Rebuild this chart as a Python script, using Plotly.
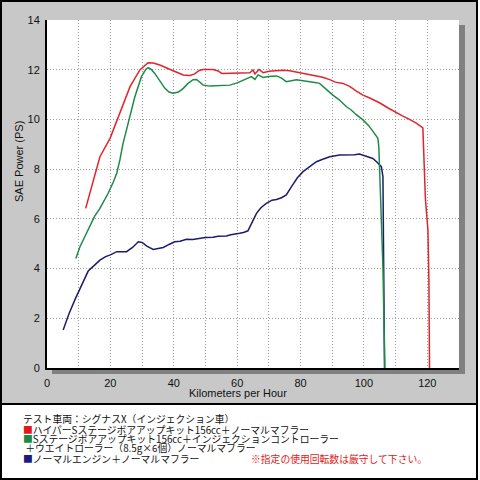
import plotly.graph_objects as go

# ---- data ----
red_x = [12.2, 14.5, 16.7, 19.9, 23, 26.2, 29.3, 31.9, 33.5, 35.6, 39.8, 43, 45.1, 46.6, 48, 49.3, 52.4, 54,
         55.1, 57, 59.8, 62, 64, 65, 65.6, 66.9, 68.2, 70, 72.4, 74.5, 76.6, 78.5, 80.8, 83, 85, 87, 89.2, 91,
         93.4, 95.5, 97.5, 99.7, 102, 104.9, 107.5, 110.2, 112, 114.4, 116.5, 118.6, 119.4, 120.2, 120.5, 120.7]
red_y = [6.42, 7.5, 8.5, 9.24, 10.25, 11.32, 11.99, 12.28, 12.27, 12.19, 11.96, 11.79, 11.77, 11.83, 11.97,
         12.01, 12.01, 11.95, 11.85, 11.86, 11.85, 11.87, 11.88, 11.99, 11.83, 12.01, 11.88, 11.94, 11.96, 11.98,
         11.96, 11.92, 11.85, 11.8, 11.75, 11.7, 11.6, 11.5, 11.45, 11.33, 11.15, 10.98, 10.85, 10.67, 10.47,
         10.27, 10.15, 10.0, 9.85, 9.66, 6.8, 5.55, 3.6, 0]

green_x = [9.1, 10.4, 12, 13.6, 15, 16.7, 18, 19.3, 21, 22, 23, 24, 25.6, 27.7, 29.8, 31.2, 31.9, 33, 34, 35.5,
           37.2, 38.5, 39.8, 41.5, 43, 44.5, 46.1, 47.2, 48.3, 49.3, 51.4, 54, 57.7, 60, 61.9, 64.5, 65.6, 66.6,
           68.2, 70, 72.4, 74, 75.5, 77, 78.7, 80.8, 83, 85, 86, 87.1, 88.5, 90.2, 92.3, 94.5, 96, 97.5, 99.7,
           101.5, 102.9, 104.4, 104.7, 105.2, 106, 106.6]
green_y = [4.41, 4.88, 5.3, 5.75, 6.1, 6.42, 6.7, 7.03, 7.5, 7.83, 8.37, 9.04, 9.84, 10.9, 11.72, 12.02, 12.08,
           12.0, 11.85, 11.55, 11.25, 11.1, 11.05, 11.1, 11.25, 11.45, 11.6, 11.61, 11.5, 11.38, 11.34, 11.36,
           11.38, 11.47, 11.59, 11.72, 11.61, 11.79, 11.69, 11.73, 11.75, 11.66, 11.52, 11.57, 11.6, 11.56,
           11.53, 11.48, 11.45, 11.32, 11.15, 10.98, 10.78, 10.51, 10.38, 10.2, 9.98, 9.75, 9.51, 9.24, 8.9,
           6.76, 4.07, 0]

blue_x = [5.1, 7, 9, 11, 13, 15.1, 16.7, 18.5, 20, 22, 25.1, 27, 28.8, 30, 31.5, 33.5, 35, 36.7, 38.5, 40.3,
          42, 44, 46, 48.2, 50, 52.4, 54, 56.6, 58, 60.8, 62, 63.4, 64.5, 66.1, 67.5, 69.2, 71, 72.4, 74, 75.5,
          77.1, 79, 80.8, 83, 85, 87, 89.2, 92.3, 95, 97, 98.6, 100, 101.5, 102.8, 104, 105.5, 106, 106.3, 106.5]
blue_y = [1.53, 2.2, 2.8, 3.35, 3.9, 4.15, 4.34, 4.48, 4.55, 4.68, 4.68, 4.85, 5.08, 5.05, 4.9, 4.77, 4.82,
          4.85, 4.97, 5.08, 5.1, 5.18, 5.17, 5.22, 5.25, 5.26, 5.3, 5.31, 5.36, 5.42, 5.45, 5.52, 5.8, 6.22,
          6.45, 6.62, 6.75, 6.78, 6.85, 6.96, 7.29, 7.65, 7.9, 8.12, 8.3, 8.4, 8.5, 8.57, 8.57, 8.58, 8.61, 8.55,
          8.5, 8.43, 8.3, 8.1, 7.7, 4.0, 0]

x_ticks = [0, 20, 40, 60, 80, 100, 120]
y_ticks = [0, 2, 4, 6, 8, 10, 12, 14]

legend_lines = [
    "テスト車両：シグナスX（インジェクション車）",
    "<span style='color:#e01818'>■</span>ハイパーSステージボアアップキット156cc＋ノーマルマフラー",
    "<span style='color:#1a8a40'>■</span>Sステージボアアップキット156cc＋インジェクションコントローラー",
    " ＋ウエイトローラー（8.5g×6個）ノーマルマフラー",
    "<span style='color:#1a1a80'>■</span>ノーマルエンジン＋ノーマルマフラー",
]
note_text = "※指定の使用回転数は厳守して下さい。"

RED, GREEN, NAVY = "#e0242c", "#1f8a48", "#1c1c6a"

# ---- layout geometry (pixels) ----
W = H = 480
L, R, T, B = 47, 459, 20, 368


def px(x):
    return (x - L) / (R - L)


def py(y):
    return (B - y) / (B - T)


fig = go.Figure()
for xs, ys, c in [(blue_x, blue_y, NAVY), (green_x, green_y, GREEN), (red_x, red_y, RED)]:
    fig.add_trace(go.Scatter(x=xs, y=ys, mode="lines", line=dict(color=c, width=1.5),
                             showlegend=False, hoverinfo="skip"))

shapes = [
    dict(type="rect", xref="paper", yref="paper", x0=px(1), x1=px(477), y0=py(404), y1=py(1),
         fillcolor="#c8c8c8", line=dict(color="black", width=2), layer="below"),
    dict(type="rect", xref="paper", yref="paper", x0=px(1), x1=px(477), y0=py(479), y1=py(404),
         fillcolor="white", line=dict(color="black", width=2), layer="below"),
    dict(type="rect", xref="paper", yref="paper", x0=px(52), x1=px(465), y0=py(374), y1=py(25),
         fillcolor="#808080", line=dict(width=0), layer="below"),
    dict(type="rect", xref="paper", yref="paper", x0=0, x1=1, y0=0, y1=1,
         fillcolor="white", line=dict(width=0), layer="below"),
]

annotations = [
    dict(text="Kilometers per Hour", xref="paper", yref="paper", x=px(238), y=py(393),
         showarrow=False, font=dict(size=11, color="#111", family="Liberation Sans, Arial"),
         xanchor="center", yanchor="middle", borderpad=0),
    dict(text="SAE Power (PS)", xref="paper", yref="paper", x=px(19), y=py(162), textangle=-90,
         showarrow=False, font=dict(size=11, color="#111", family="Liberation Sans, Arial"),
         xanchor="center", yanchor="middle", borderpad=0),
]
ys_leg = [419, 429.5, 439, 448.5, 459]
for t, yy in zip(legend_lines, ys_leg):
    annotations.append(dict(text=t, xref="paper", yref="paper", x=px(22), y=py(yy), showarrow=False,
                            xanchor="left", yanchor="middle", borderpad=0,
                            font=dict(size=9.8, color="#111", family="Noto Sans CJK JP")))
annotations.append(dict(text=note_text, xref="paper", yref="paper", x=px(250), y=py(459), showarrow=False,
                        xanchor="left", yanchor="middle", borderpad=0,
                        font=dict(size=9.8, color="#e02020", family="Noto Sans CJK JP")))

GRID = dict(showgrid=True, gridcolor="#9a9a9a", griddash="1px,2px", gridwidth=1)

fig.update_layout(
    width=W, height=H,
    margin=dict(l=L, r=W - R, t=T, b=H - B, pad=0),
    paper_bgcolor="white",
    plot_bgcolor="rgba(0,0,0,0)",
    shapes=shapes,
    annotations=annotations,
    font=dict(family="Liberation Sans, Arial", size=11, color="#111"),
)
fig.update_xaxes(range=[0, 130], tickvals=x_ticks, ticktext=[str(v) for v in x_ticks],
                 minor=dict(dtick=10, tick0=0, **GRID), **GRID,
                 showline=True, linecolor="black", linewidth=2, mirror=False,
                 ticks="", ticklabelstandoff=4, zeroline=False, fixedrange=True, automargin=False)
fig.update_yaxes(range=[0, 14], tickvals=y_ticks, ticktext=[str(v) for v in y_ticks], **GRID,
                 showline=True, linecolor="black", linewidth=2, mirror=False,
                 ticks="", ticklabelstandoff=3, zeroline=False, fixedrange=True, automargin=False)

fig.write_html("out.html", config={"displayModeBar": False},
               post_script="document.body.style.margin='0';document.body.style.overflow='hidden';")
